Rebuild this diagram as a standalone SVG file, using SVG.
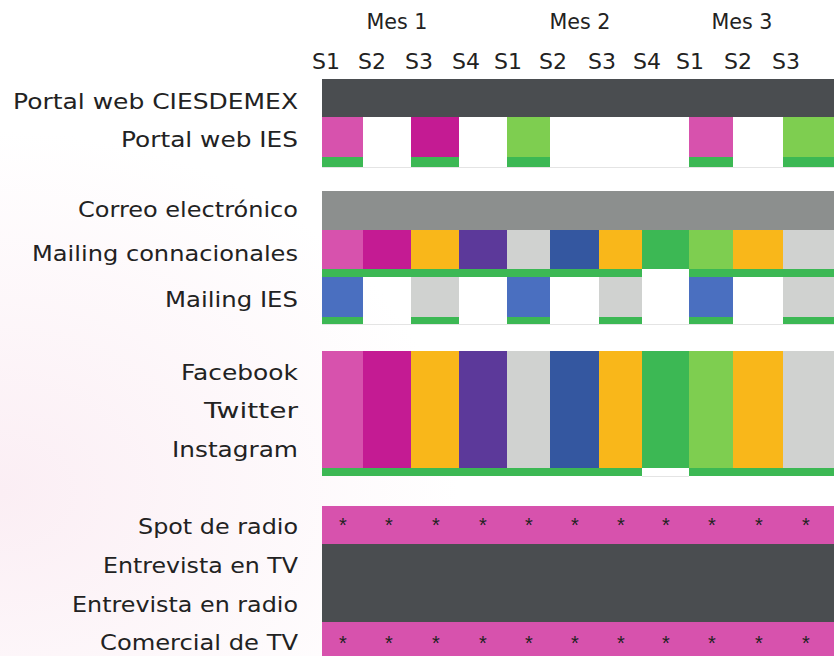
<svg xmlns="http://www.w3.org/2000/svg" width="834" height="656" viewBox="0 0 834 656">
<defs>
<radialGradient id="bg" cx="0" cy="0.75" r="0.55" gradientUnits="objectBoundingBox">
<stop offset="0" stop-color="#fbeef4"/>
<stop offset="1" stop-color="#ffffff"/>
</radialGradient>
</defs>
<style>
.lbl{font-family:"DejaVu Sans","Liberation Sans",sans-serif;font-size:22px;fill:#222;text-anchor:end}
.hd{font-family:"DejaVu Sans","Liberation Sans",sans-serif;font-size:22px;fill:#222;text-anchor:middle}
.ast{font-family:"Liberation Sans",sans-serif;font-size:20px;fill:#222;text-anchor:middle}
.dk{fill:#4a4d50}.gy{fill:#8c8f8e}.pk{fill:#d752ad}.mg{fill:#c41b93}.or{fill:#f9b71a}.pu{fill:#5c399a}
.lg{fill:#d0d2d0}.db{fill:#3457a0}.gr{fill:#3cb854}.lgn{fill:#7ece50}.bl{fill:#4a6fc0}.wh{fill:#fefefe}
.edge{stroke:#e4e4e4;stroke-width:1;fill:none}
</style>
<rect width="834" height="656" fill="url(#bg)"/>

<g id="header">
<text class="hd" x="397" y="29" textLength="61" lengthAdjust="spacingAndGlyphs">Mes 1</text>
<text class="hd" x="580" y="29" textLength="61" lengthAdjust="spacingAndGlyphs">Mes 2</text>
<text class="hd" x="742" y="29" textLength="61" lengthAdjust="spacingAndGlyphs">Mes 3</text>
<text class="hd" x="326" y="69">S1</text>
<text class="hd" x="372" y="69">S2</text>
<text class="hd" x="419" y="69">S3</text>
<text class="hd" x="466" y="69">S4</text>
<text class="hd" x="508" y="69">S1</text>
<text class="hd" x="553" y="69">S2</text>
<text class="hd" x="602" y="69">S3</text>
<text class="hd" x="647" y="69">S4</text>
<text class="hd" x="690" y="69">S1</text>
<text class="hd" x="738" y="69">S2</text>
<text class="hd" x="786" y="69">S3</text>
</g>

<g id="labels">
<text class="lbl" x="298" y="109" textLength="285" lengthAdjust="spacingAndGlyphs">Portal web CIESDEMEX</text>
<text class="lbl" x="298" y="147" textLength="177" lengthAdjust="spacingAndGlyphs">Portal web IES</text>
<text class="lbl" x="298" y="217" textLength="220" lengthAdjust="spacingAndGlyphs">Correo electrónico</text>
<text class="lbl" x="298" y="261" textLength="266" lengthAdjust="spacingAndGlyphs">Mailing connacionales</text>
<text class="lbl" x="298" y="307" textLength="133" lengthAdjust="spacingAndGlyphs">Mailing IES</text>
<text class="lbl" x="298" y="380" textLength="117" lengthAdjust="spacingAndGlyphs">Facebook</text>
<text class="lbl" x="298" y="418" textLength="94" lengthAdjust="spacingAndGlyphs">Twitter</text>
<text class="lbl" x="298" y="457" textLength="126" lengthAdjust="spacingAndGlyphs">Instagram</text>
<text class="lbl" x="298" y="534" textLength="160" lengthAdjust="spacingAndGlyphs">Spot de radio</text>
<text class="lbl" x="298" y="573" textLength="195" lengthAdjust="spacingAndGlyphs">Entrevista en TV</text>
<text class="lbl" x="298" y="612" textLength="226" lengthAdjust="spacingAndGlyphs">Entrevista en radio</text>
<text class="lbl" x="298" y="650" textLength="198" lengthAdjust="spacingAndGlyphs">Comercial de TV</text>
</g>

<g id="row-portal-ciesdemex">
<rect class="dk" x="322" y="79" width="512" height="38"/>
</g>

<g id="row-portal-ies">
<rect class="pk" x="322" y="117" width="41" height="40"/>
<rect class="gr" x="322" y="157" width="41" height="10"/>
<rect class="mg" x="411" y="117" width="48" height="40"/>
<rect class="gr" x="411" y="157" width="48" height="10"/>
<rect class="lgn" x="507" y="117" width="43" height="40"/>
<rect class="gr" x="507" y="157" width="43" height="10"/>
<rect class="pk" x="689" y="117" width="44" height="40"/>
<rect class="gr" x="689" y="157" width="44" height="10"/>
<rect class="lgn" x="783" y="117" width="51" height="40"/>
<rect class="gr" x="783" y="157" width="51" height="10"/>
<line class="edge" x1="322" y1="167.5" x2="834" y2="167.5"/>
</g>

<g id="row-correo">
<rect class="gy" x="322" y="191" width="512" height="39"/>
</g>

<g id="row-mailing-connacionales">
<rect class="pk" x="322" y="230" width="41" height="39"/>
<rect class="mg" x="363" y="230" width="48" height="39"/>
<rect class="or" x="411" y="230" width="48" height="39"/>
<rect class="pu" x="459" y="230" width="48" height="39"/>
<rect class="lg" x="507" y="230" width="43" height="39"/>
<rect class="db" x="550" y="230" width="49" height="39"/>
<rect class="or" x="599" y="230" width="43" height="39"/>
<rect class="gr" x="642" y="230" width="47" height="39"/>
<rect class="lgn" x="689" y="230" width="44" height="39"/>
<rect class="or" x="733" y="230" width="50" height="39"/>
<rect class="lg" x="783" y="230" width="51" height="39"/>
<rect class="gr" x="322" y="269" width="320" height="8"/>
<rect class="gr" x="689" y="269" width="145" height="8"/>
</g>

<g id="row-mailing-ies">
<rect class="bl" x="322" y="277" width="41" height="40"/>
<rect class="gr" x="322" y="317" width="41" height="7"/>
<rect class="lg" x="411" y="277" width="48" height="40"/>
<rect class="gr" x="411" y="317" width="48" height="7"/>
<rect class="bl" x="507" y="277" width="43" height="40"/>
<rect class="gr" x="507" y="317" width="43" height="7"/>
<rect class="lg" x="599" y="277" width="43" height="40"/>
<rect class="gr" x="599" y="317" width="43" height="7"/>
<rect class="bl" x="689" y="277" width="44" height="40"/>
<rect class="gr" x="689" y="317" width="44" height="7"/>
<rect class="lg" x="783" y="277" width="51" height="40"/>
<rect class="gr" x="783" y="317" width="51" height="7"/>
<line class="edge" x1="322" y1="324.5" x2="834" y2="324.5"/>
</g>

<g id="row-social">
<rect class="pk" x="322" y="351" width="41" height="117"/>
<rect class="mg" x="363" y="351" width="48" height="117"/>
<rect class="or" x="411" y="351" width="48" height="117"/>
<rect class="pu" x="459" y="351" width="48" height="117"/>
<rect class="lg" x="507" y="351" width="43" height="117"/>
<rect class="db" x="550" y="351" width="49" height="117"/>
<rect class="or" x="599" y="351" width="43" height="117"/>
<rect class="gr" x="642" y="351" width="47" height="117"/>
<rect class="lgn" x="689" y="351" width="44" height="117"/>
<rect class="or" x="733" y="351" width="50" height="117"/>
<rect class="lg" x="783" y="351" width="51" height="117"/>
<rect class="gr" x="322" y="468" width="320" height="8"/>
<rect class="gr" x="689" y="468" width="145" height="8"/>
<line class="edge" x1="642" y1="476.5" x2="689" y2="476.5"/>
</g>

<g id="row-media">
<rect class="pk" x="322" y="506" width="512" height="38"/>
<rect class="dk" x="322" y="544" width="512" height="78"/>
<rect class="pk" x="322" y="622" width="512" height="34"/>
<text class="ast" x="343" y="532">*</text>
<text class="ast" x="389" y="532">*</text>
<text class="ast" x="436" y="532">*</text>
<text class="ast" x="483" y="532">*</text>
<text class="ast" x="529" y="532">*</text>
<text class="ast" x="575" y="532">*</text>
<text class="ast" x="621" y="532">*</text>
<text class="ast" x="666" y="532">*</text>
<text class="ast" x="712" y="532">*</text>
<text class="ast" x="759" y="532">*</text>
<text class="ast" x="806" y="532">*</text>
<text class="ast" x="343" y="650">*</text>
<text class="ast" x="389" y="650">*</text>
<text class="ast" x="436" y="650">*</text>
<text class="ast" x="483" y="650">*</text>
<text class="ast" x="529" y="650">*</text>
<text class="ast" x="575" y="650">*</text>
<text class="ast" x="621" y="650">*</text>
<text class="ast" x="666" y="650">*</text>
<text class="ast" x="712" y="650">*</text>
<text class="ast" x="759" y="650">*</text>
<text class="ast" x="806" y="650">*</text>
</g>
</svg>
